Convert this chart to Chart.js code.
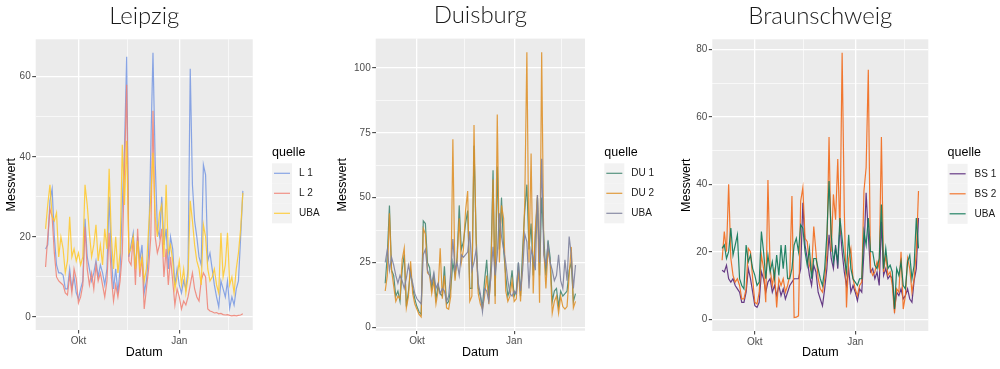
<!DOCTYPE html>
<html>
<head>
<meta charset="utf-8">
<script src="https://cdn.jsdelivr.net/npm/chart.js@4/dist/chart.umd.min.js"></script>
<style>
html,body{margin:0;padding:0;background:#fff;width:1000px;height:369px;overflow:hidden;position:relative}
canvas{position:absolute;top:0}
</style>
</head>
<body>
<canvas id="c1" width="333" height="369" style="left:0px"></canvas>
<canvas id="c2" width="333" height="369" style="left:333px"></canvas>
<canvas id="c3" width="344" height="369" style="left:666px"></canvas>
<script>
// ---- shared x positions (days since 1 Sep) ----
const days = [0,2,4,6,8,10,12,14,16,18,20,22,24,26,28,30,32,34,36,38,40,42,44,46,48,50,52,54,56,58,60,62,64,66,68,70,72,74,76,78,80,82,84,86,88,90,92,94,96,98,100,102,104,106,108,110,112,114,116,118,120,122,124,126,128,130,132,134,136,138,140,142,144,146,148,150,152,154,156,158,160,162,164,166,168,170,172,174,176,178,180];
const xMajorTicks = [30, 122];
const xMajorLabels = ['Okt', 'Jan'];
const xMinorTicks = [75, 167];

// ---- Leipzig ----
const leipzigL1 = [17,18,29,32,20,13,11,11,10.5,7, 7,12,7,10,6,4.5,7,9,24.5,15, 12,9,11,14,10,13,11,8,12,30, 15,7,12,6,12,28,42,65,15,18, 21,12,20,14,18,6,9,16,42,66, 39,22,20,30,18,22,12,20,17,8, 12,8,6,9,7,12,62,33,24,20, 15,13,38,35.5,14,16,12,8,5,2.5, 9,7,5,9,2.2,5,3,7,9,20, 31.5];
const leipzigL2 = [12.5,20,27,25,16,10,9,8.5,8,6, 5.5,10.5,6,12,9.5,3.5,5,8,22.5,12, 8,11,7,13,9,11,8,5,9,21, 10,4,8,5,9,16,36.5,58,14,13, 20,8,22,10,15,2,7,12,20,51.5, 20,16,18,22,10,17,8,15,9,3, 7,5,2,4,3,5,8,11,7,5, 4,9,11,10,2,1.5,1.3,1,1.1,0.8, 0.9,0.6,0.5,0.6,0.4,0.3,0.4,0.3,0.4,0.5, 0.8];
const leipzigUBA = [22,28,33,25,24,26,15,20,17,11, 14,25,15,17,14,16,13,15,33,28, 21,15,18,23,14,18,13,22,17,37, 20,12,20,11,16,43,28,44,16,17, 20,12,19,12,15,9,12,22,30,41, 25,20,26,28,15,33,16,18,14,7, 10,14,8,12,6,10,29,24,18,14, 12,8,23,20,12,9,10,12,8,6, 21,10,13,21,8,10,6,12,16,22, 31];
const leipzigYMajor = [0, 20, 40, 60];
const leipzigYMinor = [10, 30, 50];

// ---- Duisburg ----
const duisburgDU1 = [17,28,47,22,20,12,14,10,22,28, 8,14,22,15,11,8,6,5,41,40, 25,23,15,20,11,16,13,12,23.5,9, 10,15,25,20,27,47,30,33,40,45, 15,15,70,35,15,12,8,18,26,12, 24,60.5,12,62,30,50,30,20,12,15, 22,12,14,25,12,30,45,55,30,40, 20,35,50,20,50,35,20,33.5,27,10, 14,15,8,14,12,13,14,22,25,10, 13];
const duisburgDU2 = [14,20,44,22,16,10,12,11,26,30.5, 7.5,12,25.5,13,9,7,5,4,38,36, 21,20,13,18,9,14,30.5,11,20,7.5, 7,12,72.5,18,26,42,25,30,45,52.5, 10,12,78,32,13,9,7,12,20,9, 20,57,9,82,25,47,42,14,10,12, 18,10,11,22,10,25,48,106,25,67, 13,38,51,9.5,106,30,15,30,25,5.5, 10,12,5.5,12,8,7,8,20,31,7.5, 10];
const duisburgUBA = [25,30,22,27,24,20,17,20,18,15, 19,24,20,17,13,11,10,9,28,30, 22,20,17,21,15,17,13,15,14,10, 12,21,34,22,25,20,28,27,28,29, 37,22,25,30,17,13,6,15,14,10, 20,31,20,28,44,35,30,25,18,13, 12,14,13,25,14,22,36,33,15,30, 27,22,51,25,65,28,24,32,25,22, 18,20,28,18,15,26,18,35,28,15, 24];
const duisburgYMajor = [0, 25, 50, 75, 100];
const duisburgYMinor = [12.5, 37.5, 62.5, 87.5];

// ---- Braunschweig ----
const braunschweigBS1 = [14.5,14,16,12,11,12,10,9,8,5, 5,8,15,12,8,4,3.5,5,14,12, 8,11,12,8,10,7,10,7,9,6, 8,10,11,12,12,12,15,34.5,22,18, 13,10,16,14,8,6,4,9,15,25, 18,15,22,15,28,20,14,10,15,8, 10,8,5.5,9,8,20,37.5,25,14,15, 12,14,10,29,13,15,12,13,12,3, 8,7,9,6,7,9,6,5,11.5,15, 30];
const braunschweigBS2 = [17.5,26,20,40,18,13,11,12,10,6, 6,9,21,20,12,5,4.5,8,19,15, 5,41.3,15,10,14,3.5,12,10,12,8, 10,13,36.5,0.5,0.6,1,35,39,24,23, 16,14,27.5,20,12,9,8,12,19,54, 20,37,29.5,47.5,25,79,32,3.5,18,21, 12,9,7,10,11,38,45,74,15,13, 14,17,15,54,14,19,13,14,10,1.8, 9,8,20,3,7,18,15,8,12,20, 38];
const braunschweigUBA = [21,22,18,20,27,19,22,25,12,10, 9,22,17,19,15,13,10,11,26,20, 12,19,14,17,12,19,13,22,15,22, 12,12,15,22,24,20,28,27,20,16, 21,12,18,18,15,12,10,15,25,41, 25,17,21,17,30,24,18,14,25,15, 12,11,10,12,12,26,22,30,20,20, 16,15,18,34,15,21,15,16,14,3, 15,13,17,10,9,17,19,12,16,30, 21];
const braunschweigYMajor = [0, 20, 40, 60, 80];
const braunschweigYMinor = [10, 30, 50, 70];

const FONT = "'Liberation Sans', Arial, sans-serif";

const bgPlugin = {
  id: 'panelBg',
  beforeDraw(chart) {
    const a = chart.chartArea, c = chart.ctx;
    c.save();
    c.fillStyle = '#EBEBEB';
    c.fillRect(a.left, a.top, a.right - a.left, a.bottom - a.top);
    c.restore();
  }
};
const keyPlugin = {
  id: 'legendKeys',
  afterDraw(chart) {
    const c = chart.ctx, lg = chart.legend;
    if (!lg || !lg.legendHitBoxes) return;
    c.save();
    lg.legendHitBoxes.forEach((hb, i) => {
      c.fillStyle = '#F2F2F2';
      c.fillRect(hb.left, hb.top, 20, 20);
      c.strokeStyle = chart.data.datasets[i].borderColor;
      c.lineWidth = 1.2;
      c.beginPath();
      c.moveTo(hb.left + 2, hb.top + 10);
      c.lineTo(hb.left + 18, hb.top + 10);
      c.stroke();
    });
    c.restore();
  }
};

function makePanel(id, p) {
  const isMajorX = v => xMajorTicks.includes(v);
  const isMajorY = v => p.yMajor.includes(v);
  const chart = new Chart(document.getElementById(id), {
    type: 'line',
    data: {
      datasets: p.series.map((s, i) => ({
        label: s.label,
        data: days.map((d, j) => ({ x: d, y: s.values[j] })),
        borderColor: s.color,
        borderWidth: 1.2,
        pointRadius: 0,
        fill: false,
        tension: 0,
        order: p.series.length - i,
        xAxisID: 'x',
        yAxisID: 'y'
      }))
    },
    options: {
      responsive: false,
      animation: false,
      events: [],
      layout: { padding: { left: p.padL, top: 1.6, right: 4, bottom: 8.5 } },
      plugins: {
        tooltip: { enabled: false },
        title: {
          display: true, text: p.title, fullSize: false,
          font: { family: "Lato, 'Open Sans', sans-serif", size: 24, weight: 300, lineHeight: 1.2 },
          color: '#1A1A1A', padding: { top: 0, bottom: 8.9 }
        },
        legend: {
          position: 'right', fullSize: false, align: 'center',
          title: { display: true, text: 'quelle', position: 'start',
            font: { family: FONT, size: 12.5, lineHeight: 1.2 }, color: '#000', padding: { top: 0, bottom: 2.3 } },
          labels: {
            boxWidth: 22, boxHeight: 20, padding: 0,
            font: { family: FONT, size: 10 }, color: '#1A1A1A',
            generateLabels: (chart) => chart.data.datasets.map((ds, i) => ({
              text: ds.label, fillStyle: 'rgba(0,0,0,0)', strokeStyle: 'rgba(0,0,0,0)',
              lineWidth: 0, datasetIndex: i, hidden: false, fontColor: '#1A1A1A'
            }))
          }
        }
      },
      scales: {
        x: {
          type: 'linear', min: -9, max: 189,
          afterBuildTicks: s => { s.ticks = xMajorTicks.concat(xMinorTicks).sort((a, b) => a - b).map(v => ({ value: v })); },
          afterFit: s => { s.height = p.xh; },
          ticks: {
            autoSkip: false, maxRotation: 0, padding: 1.5, color: '#4D4D4D',
            font: { family: FONT, size: 10 },
            callback: v => { const k = xMajorTicks.indexOf(v); return k >= 0 ? xMajorLabels[k] : ''; }
          },
          grid: {
            color: '#FFFFFF',
            lineWidth: c => (c.tick && isMajorX(c.tick.value)) ? 1.3 : 0.65,
            tickColor: c => (c.tick && isMajorX(c.tick.value)) ? '#333333' : 'rgba(0,0,0,0)',
            tickLength: 3.5, tickWidth: 1
          },
          border: { display: false },
          title: { display: true, text: 'Datum', color: '#000', font: { family: FONT, size: 12.5, lineHeight: 1.2 }, padding: 0 }
        },
        y: {
          type: 'linear', position: 'left', min: p.yMin, max: p.yMax,
          afterBuildTicks: s => { s.ticks = p.yMajor.concat(p.yMinor).sort((a, b) => a - b).map(v => ({ value: v })); },
          afterFit: s => { s.width = p.yw; },
          ticks: {
            autoSkip: false, padding: 1.5, color: '#4D4D4D',
            font: { family: FONT, size: 10 },
            callback: v => p.yMajor.includes(v) ? String(v) : ''
          },
          grid: {
            color: '#FFFFFF',
            lineWidth: c => (c.tick && isMajorY(c.tick.value)) ? 1.3 : 0.65,
            tickColor: c => (c.tick && isMajorY(c.tick.value)) ? '#333333' : 'rgba(0,0,0,0)',
            tickLength: 3.5, tickWidth: 1
          },
          border: { display: false },
          title: { display: true, text: 'Messwert', color: '#000', font: { family: FONT, size: 12.5, lineHeight: 1.2 }, padding: 0 }
        },
        gap: {
          type: 'linear', axis: 'y', position: 'right', display: true,
          grid: { display: false, drawTicks: false },
          ticks: { display: false },
          border: { display: false },
          afterFit: s => { s.width = 19.3; }
        }
      }
    },
    plugins: [bgPlugin, keyPlugin]
  });
  // align chart area with the target panel rectangle
  for (let k = 0; k < 3; k++) {
    const a = chart.chartArea, pad = chart.config.options.layout.padding;
    const t = p.area;
    const dl = t.left - a.left, dt = t.top - a.top, dr = a.right - t.right, db = a.bottom - t.bottom;
    if (Math.abs(dl) + Math.abs(dt) + Math.abs(dr) + Math.abs(db) < 0.05) break;
    pad.left += dl; pad.top += dt; pad.right += dr; pad.bottom += db;
    chart.update('none');
  }
  return chart;
}

makePanel('c1', {
  title: 'Leipzig',
  series: [
    { label: 'L 1', values: leipzigL1, color: 'rgba(118,150,226,0.85)' },
    { label: 'L 2', values: leipzigL2, color: 'rgba(240,128,114,0.85)' },
    { label: 'UBA', values: leipzigUBA, color: 'rgba(255,200,40,0.85)' }
  ],
  yMin: -3.25, yMax: 69.35, yMajor: leipzigYMajor, yMinor: leipzigYMinor,
  padL: 4, yw: 31.7, xh: 30.5,
  area: { left: 35.7, top: 39.3, right: 252.7, bottom: 330 }
});
makePanel('c2', {
  title: 'Duisburg',
  series: [
    { label: 'DU 1', values: duisburgDU1, color: 'rgba(46,122,98,0.8)' },
    { label: 'DU 2', values: duisburgDU2, color: 'rgba(222,144,38,0.88)' },
    { label: 'UBA', values: duisburgUBA, color: 'rgba(128,131,158,0.92)' }
  ],
  yMin: -1.3, yMax: 111.3, yMajor: duisburgYMajor, yMinor: duisburgYMinor,
  padL: 2.5, yw: 40.2, xh: 29.8,
  area: { left: 42.7, top: 38.6, right: 252, bottom: 330.7 }
});
makePanel('c3', {
  title: 'Braunschweig',
  series: [
    { label: 'BS 1', values: braunschweigBS1, color: 'rgba(88,40,122,0.9)' },
    { label: 'BS 2', values: braunschweigBS2, color: 'rgba(242,106,28,0.9)' },
    { label: 'UBA', values: braunschweigUBA, color: 'rgba(14,120,86,0.9)' }
  ],
  yMin: -3.5, yMax: 83, yMajor: braunschweigYMajor, yMinor: braunschweigYMinor,
  padL: 12.7, yw: 33.6, xh: 29.5,
  area: { left: 46.3, top: 39.3, right: 262.3, bottom: 331 }
});
</script>
</body>
</html>
